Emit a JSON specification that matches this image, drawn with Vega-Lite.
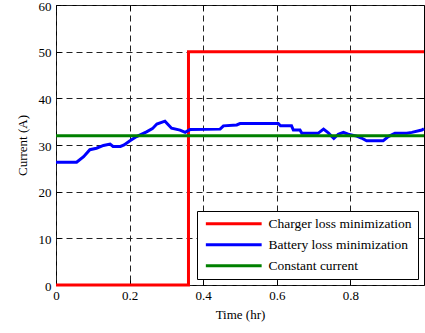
{
  "$schema": "https://vega.github.io/schema/vega-lite/v6.json",
  "width": 368,
  "height": 280,
  "autosize": {"type": "none"},
  "padding": {"left": 56, "top": 5, "right": 1, "bottom": 48},
  "config": {
    "view": {"stroke": "black", "strokeWidth": 1},
    "font": "Times New Roman",
    "axis": {
      "labelFont": "Times New Roman", "labelFontSize": 13, "labelColor": "black",
      "titleFont": "Times New Roman", "titleFontSize": 13, "titleFontWeight": "normal", "titleColor": "black",
      "domain": false, "tickColor": "black", "tickSize": -5, "tickWidth": 1,
      "gridColor": "#222", "gridDash": [6, 4], "gridOpacity": 1, "gridWidth": 1,
      "labelFlush": false, "labelOverlap": false
    }
  },
  "data": {
    "values": [
      {"series": "Charger loss minimization", "t": 0, "I": 0},
      {"series": "Charger loss minimization", "t": 0.36, "I": 0},
      {"series": "Charger loss minimization", "t": 0.36, "I": 50},
      {"series": "Charger loss minimization", "t": 1, "I": 50},
      {"series": "Battery loss minimization", "t": 0, "I": 26.3},
      {"series": "Battery loss minimization", "t": 0.056, "I": 26.3},
      {"series": "Battery loss minimization", "t": 0.075, "I": 27.5},
      {"series": "Battery loss minimization", "t": 0.092, "I": 29.0},
      {"series": "Battery loss minimization", "t": 0.11, "I": 29.3},
      {"series": "Battery loss minimization", "t": 0.129, "I": 29.9},
      {"series": "Battery loss minimization", "t": 0.147, "I": 30.2},
      {"series": "Battery loss minimization", "t": 0.155, "I": 29.7},
      {"series": "Battery loss minimization", "t": 0.175, "I": 29.7},
      {"series": "Battery loss minimization", "t": 0.185, "I": 30.0},
      {"series": "Battery loss minimization", "t": 0.201, "I": 30.9},
      {"series": "Battery loss minimization", "t": 0.219, "I": 31.8},
      {"series": "Battery loss minimization", "t": 0.246, "I": 32.8},
      {"series": "Battery loss minimization", "t": 0.262, "I": 33.5},
      {"series": "Battery loss minimization", "t": 0.274, "I": 34.5},
      {"series": "Battery loss minimization", "t": 0.296, "I": 35.1},
      {"series": "Battery loss minimization", "t": 0.314, "I": 33.6},
      {"series": "Battery loss minimization", "t": 0.337, "I": 33.2},
      {"series": "Battery loss minimization", "t": 0.351, "I": 32.7},
      {"series": "Battery loss minimization", "t": 0.364, "I": 33.3},
      {"series": "Battery loss minimization", "t": 0.446, "I": 33.4},
      {"series": "Battery loss minimization", "t": 0.455, "I": 34.1},
      {"series": "Battery loss minimization", "t": 0.491, "I": 34.3},
      {"series": "Battery loss minimization", "t": 0.5, "I": 34.6},
      {"series": "Battery loss minimization", "t": 0.604, "I": 34.6},
      {"series": "Battery loss minimization", "t": 0.61, "I": 34.1},
      {"series": "Battery loss minimization", "t": 0.64, "I": 34.1},
      {"series": "Battery loss minimization", "t": 0.645, "I": 33.2},
      {"series": "Battery loss minimization", "t": 0.663, "I": 33.2},
      {"series": "Battery loss minimization", "t": 0.668, "I": 32.5},
      {"series": "Battery loss minimization", "t": 0.712, "I": 32.5},
      {"series": "Battery loss minimization", "t": 0.727, "I": 33.4},
      {"series": "Battery loss minimization", "t": 0.74, "I": 32.6},
      {"series": "Battery loss minimization", "t": 0.755, "I": 31.4},
      {"series": "Battery loss minimization", "t": 0.767, "I": 32.3},
      {"series": "Battery loss minimization", "t": 0.781, "I": 32.7},
      {"series": "Battery loss minimization", "t": 0.794, "I": 32.3},
      {"series": "Battery loss minimization", "t": 0.817, "I": 31.9},
      {"series": "Battery loss minimization", "t": 0.83, "I": 31.5},
      {"series": "Battery loss minimization", "t": 0.844, "I": 30.9},
      {"series": "Battery loss minimization", "t": 0.889, "I": 30.9},
      {"series": "Battery loss minimization", "t": 0.903, "I": 31.8},
      {"series": "Battery loss minimization", "t": 0.921, "I": 32.5},
      {"series": "Battery loss minimization", "t": 0.953, "I": 32.5},
      {"series": "Battery loss minimization", "t": 0.967, "I": 32.7},
      {"series": "Battery loss minimization", "t": 0.994, "I": 33.2},
      {"series": "Battery loss minimization", "t": 1.0, "I": 33.5},
      {"series": "Constant current", "t": 0, "I": 32},
      {"series": "Constant current", "t": 1, "I": 32}
    ]
  },
  "layer": [
    {
      "mark": {"type": "line", "strokeWidth": 3},
      "encoding": {
        "x": {"field": "t", "type": "quantitative", "scale": {"domain": [0, 1], "nice": false},
          "axis": {"orient": "bottom", "values": [0, 0.2, 0.4, 0.6, 0.8], "format": "~g", "grid": true, "title": "Time (hr)", "labelPadding": 9, "titlePadding": 6}},
        "y": {"field": "I", "type": "quantitative", "scale": {"domain": [0, 60], "nice": false},
          "axis": {"orient": "left", "values": [0, 10, 20, 30, 40, 50, 60], "grid": true, "title": "Current (A)", "labelPadding": 10, "labelOffset": 1, "titlePadding": 9}},
        "color": {"field": "series", "type": "nominal",
          "scale": {"domain": ["Charger loss minimization", "Battery loss minimization", "Constant current"], "range": ["#ff0000", "#0000ff", "#008000"]},
          "legend": {"title": null, "orient": "bottom-right", "offset": 6, "symbolType": "M-6.2,0H6.2", "symbolSize": 81, "symbolStrokeWidth": 3, "symbolOffset": 24, "labelOffset": 28, "rowPadding": 6, "padding": 6, "strokeColor": "black", "fillColor": "white", "labelFont": "Times New Roman", "labelFontSize": 13.5, "labelColor": "black", "labelLimit": 300}}
      }
    },
    {
      "mark": {"type": "line", "strokeOpacity": 0},
      "encoding": {
        "x": {"field": "t", "type": "quantitative", "scale": {"domain": [0, 1], "nice": false},
          "axis": {"orient": "top", "values": [0, 0.2, 0.4, 0.6, 0.8], "labels": false, "grid": false, "title": null}},
        "y": {"field": "I", "type": "quantitative", "scale": {"domain": [0, 60], "nice": false},
          "axis": {"orient": "right", "values": [0, 10, 20, 30, 40, 50, 60], "labels": false, "grid": false, "title": null}}
      }
    }
  ],
  "resolve": {"axis": {"x": "independent", "y": "independent"}}
}
